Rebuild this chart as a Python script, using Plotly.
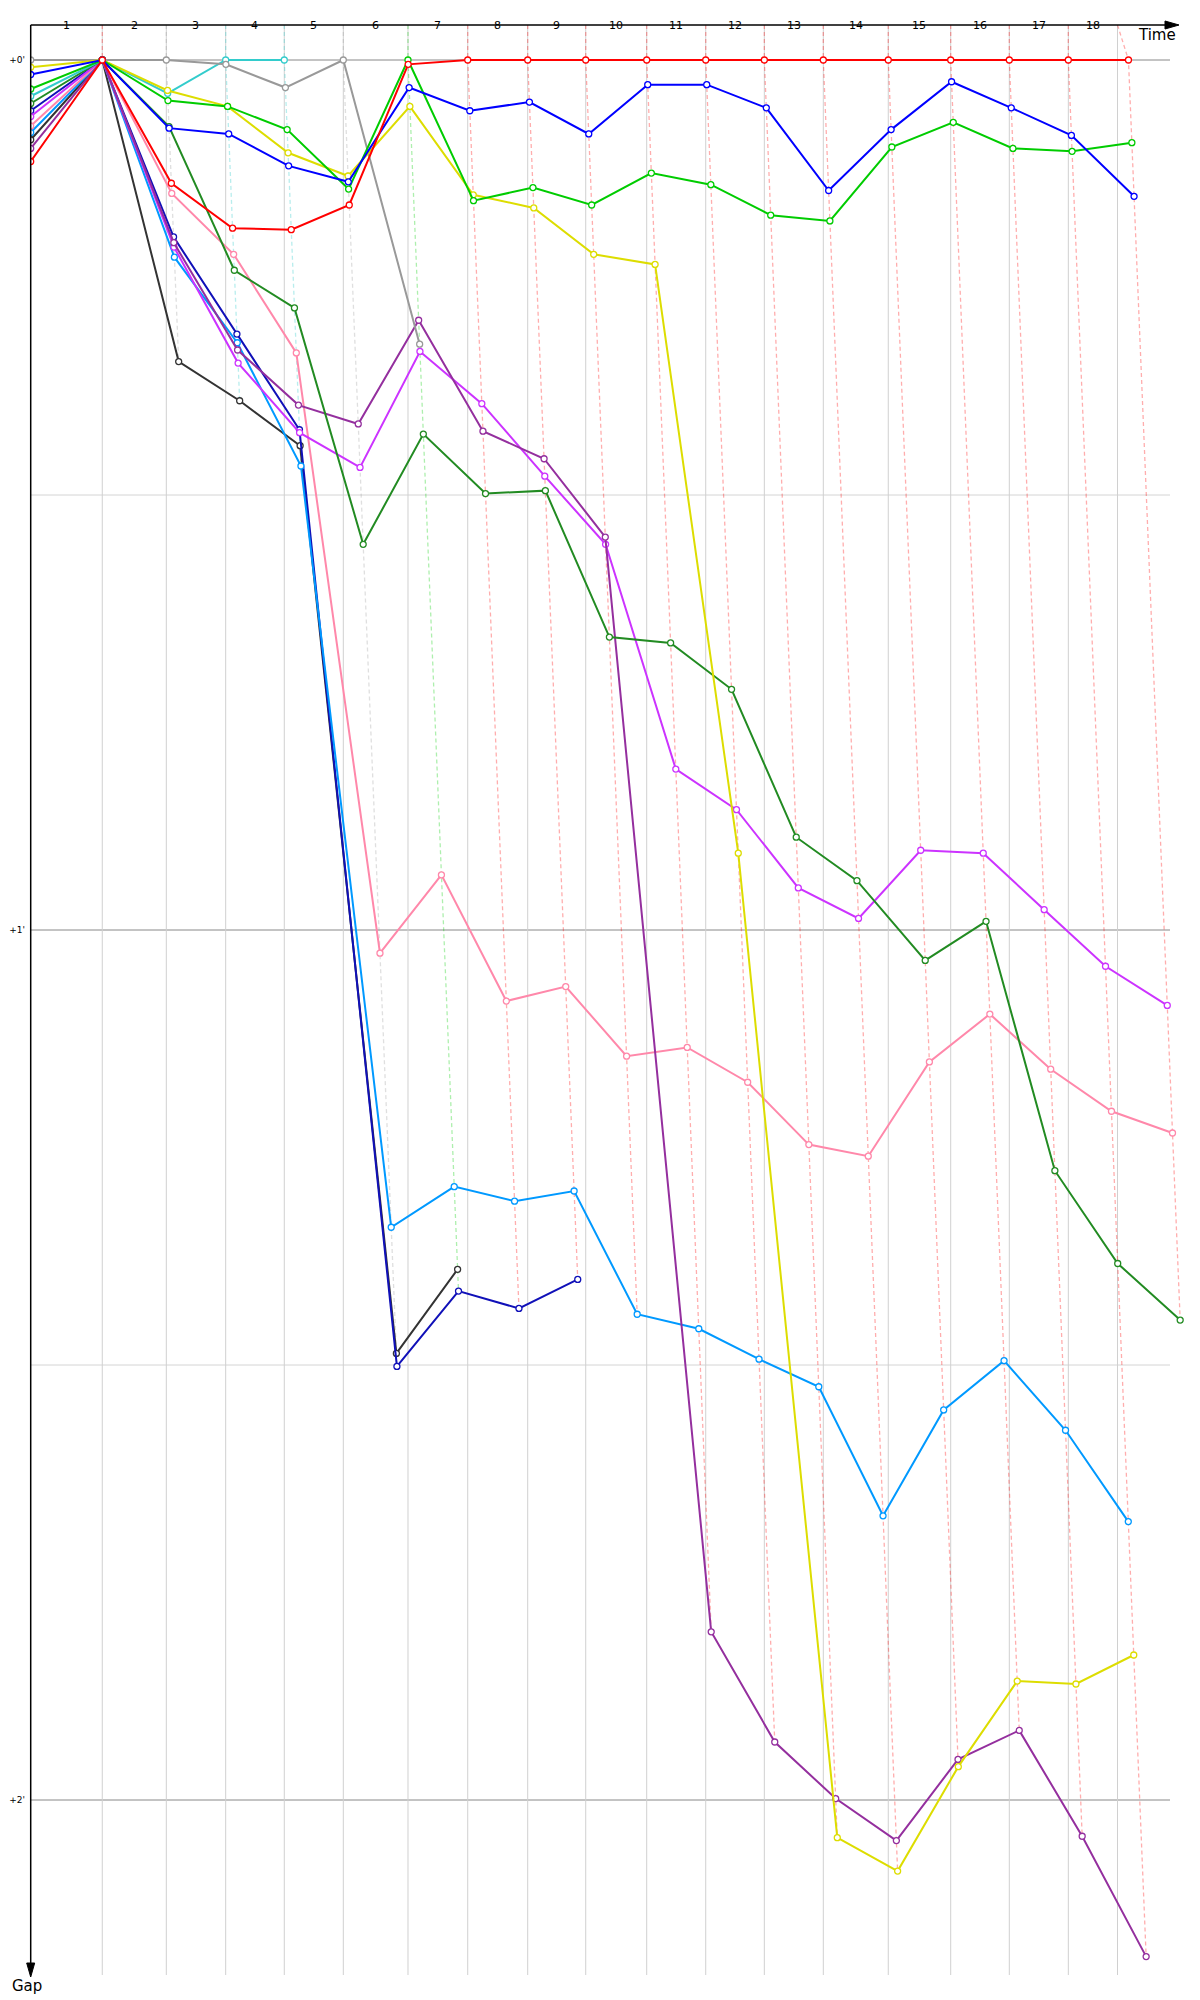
import itertools
import plotly.graph_objects as go

# ---------------- data ----------------
# leader lap durations (s), laps 1..18 (lap 1 from the start)
lap_times = [120.3, 107.6, 99.8, 98.5, 99.2, 108.7, 100.4, 100.8, 97.5,
             102.5, 99.2, 98.5, 99.1, 109.2, 104.9, 98.5, 99.2, 101.1]
race_end = 1826.6           # time of the last lap grid line (s)
lap_labels = [str(i) for i in range(1, 19)]
lap_leaders = ["red", "grey", "cyan", "cyan", "grey", "green"] + ["red"] * 12

# gap to leader (s) at start (index 0) and after each lap 1..18
gap_black = [5.5, 0, 20.8, 23.5, 26.6, 89.2, 83.4]
gap_navy = [3.5, 0, 12.2, 18.9, 25.5, 90.1, 84.9, 86.1, 84.1]
gap_lightblue = [5.0, 0, 13.6, 19.5, 28.0, 80.5, 77.7, 78.7, 78.0, 86.5, 87.5,
                 89.6, 91.5, 100.4, 93.1, 89.7, 94.5, 100.8]
gap_pink = [4.55, 0, 9.2, 13.4, 20.2, 61.6, 56.2, 64.9, 63.9, 68.7, 68.1,
            70.5, 74.8, 75.6, 69.1, 65.8, 69.6, 72.5, 74.0]
gap_violet = [3.9, 0, 12.9, 20.9, 25.7, 28.1, 20.1, 23.7, 28.7, 33.4, 48.9,
              51.7, 57.1, 59.2, 54.5, 54.7, 58.6, 62.5, 65.2]
gap_purple = [6.1, 0, 12.6, 20.0, 23.8, 25.1, 17.95, 25.6, 27.5, 32.9, 108.4,
              116.0, 119.9, 122.8, 117.2, 115.2, 122.5, 130.8]
gap_darkgreen = [3.0, 0, 4.6, 14.5, 17.1, 33.4, 25.8, 29.9, 29.7, 39.8, 40.2,
                 43.4, 53.6, 56.6, 62.1, 59.4, 76.6, 83.0, 86.9]
gap_cyan = [2.5, 0, 2.3, 0, 0]
gap_grey = [0, 0, 0, 0.3, 1.9, 0, 19.6]
gap_yellow = [0.5, 0, 2.1, 3.2, 6.4, 8.0, 3.2, 9.3, 10.2, 13.4, 14.1, 54.7,
              122.6, 124.9, 117.7, 111.8, 112.0, 110.0]
gap_green = [2.0, 0, 2.8, 3.2, 4.8, 8.9, 0, 9.7, 8.8, 10.0, 7.8, 8.6, 10.7,
             11.1, 6.0, 4.3, 6.1, 6.3, 5.7]
gap_blue = [1.0, 0, 4.7, 5.1, 7.3, 8.4, 1.9, 3.5, 2.9, 5.1, 1.7, 1.7, 3.3,
            9.0, 4.8, 1.5, 3.3, 5.2, 9.4]
gap_red = [7.0, 0, 8.5, 11.6, 11.7, 10.0, 0.3, 0, 0, 0, 0, 0, 0, 0, 0, 0, 0, 0, 0]

y_tick_vals = [0, 60, 120]
y_tick_text = ["+0'", "+1'", "+2'"]

# ---------------- styling ----------------
colors = {
    "black": "#333333", "navy": "#1010b8", "lightblue": "#0099ff",
    "pink": "#ff88aa", "violet": "#cc33ff", "purple": "#942f9e",
    "darkgreen": "#228b22", "cyan": "#33cccc", "grey": "#999999",
    "yellow": "#dddd00", "green": "#00cc00", "blue": "#0000ff", "red": "#ff0000",
}
light = {
    "red": "rgba(255,0,0,0.32)", "grey": "rgba(150,150,150,0.30)",
    "cyan": "rgba(51,204,204,0.35)", "green": "rgba(0,204,0,0.32)",
}
series = [
    ("black", gap_black), ("navy", gap_navy), ("lightblue", gap_lightblue),
    ("pink", gap_pink), ("violet", gap_violet), ("purple", gap_purple),
    ("darkgreen", gap_darkgreen), ("cyan", gap_cyan), ("grey", gap_grey),
    ("yellow", gap_yellow), ("green", gap_green), ("blue", gap_blue),
    ("red", gap_red),
]

# plot area in pixels
PL, PR, PT, PB = 30, 1195, 25, 1995
X0, PXS = 30.7, 0.595     # px of t=0, px per second (x)
Y0, PYS = 60.0, 14.5      # px of gap 0, px per second (y)
def tx(px):
    return (px - X0) / PXS
def gy(py):
    return (py - Y0) / PYS
def xp(px):
    return (px - PL) / (PR - PL)
def yp(py):
    return (PB - py) / (PB - PT)

leader_t = [0.0] + list(itertools.accumulate(lap_times))
grid_t = leader_t[1:18] + [race_end]
g_top = gy(25)
g_bot = gy(1975)

fig = go.Figure()

# lap dashed lines (through every car's crossing of that lap)
for k in range(1, 19):
    gaps_k = [g[k] for _, g in series if len(g) > k]
    gmax = max(gaps_k)
    fig.add_trace(go.Scatter(
        x=[grid_t[k - 1], leader_t[k], leader_t[k] + gmax],
        y=[g_top, 0, gmax], mode="lines",
        line=dict(color=light[lap_leaders[k - 1]], width=1.3, dash="4px,3px"),
        hoverinfo="skip", showlegend=False))

# driver traces
for name, g in series:
    xs = [leader_t[k] + (g[k] if k > 0 else 0) for k in range(len(g))]
    fig.add_trace(go.Scatter(
        x=xs, y=g, mode="lines+markers", name=name,
        line=dict(color=colors[name], width=2),
        marker=dict(symbol="circle", size=6, color="white",
                    line=dict(color=colors[name], width=1.3)),
        showlegend=False))

shapes = []
# horizontal grid
for v in [0, 30, 60, 90, 120]:
    shapes.append(dict(type="line", x0=0, x1=tx(1170), y0=v, y1=v,
                       line=dict(color="#888888" if v % 60 == 0 else "#d4d4d4", width=1),
                       layer="below"))
# vertical lap grid
for t in grid_t:
    shapes.append(dict(type="line", x0=t, x1=t, y0=g_top, y1=g_bot,
                       line=dict(color="#d0d0d0", width=1), layer="below"))
# axes (paper refs so they are not clipped)
shapes.append(dict(type="line", xref="paper", yref="paper",
                   x0=xp(30.7), x1=xp(1168), y0=yp(25), y1=yp(25),
                   line=dict(color="black", width=1.5)))
shapes.append(dict(type="line", xref="paper", yref="paper",
                   x0=xp(30.7), x1=xp(30.7), y0=yp(25), y1=yp(1966),
                   line=dict(color="black", width=1.5)))
# arrow heads
shapes.append(dict(type="path", xref="paper", yref="paper", fillcolor="black",
                   line=dict(color="black", width=1),
                   path=f"M {xp(1179)},{yp(25)} L {xp(1165)},{yp(21)} L {xp(1165)},{yp(29)} Z"))
shapes.append(dict(type="path", xref="paper", yref="paper", fillcolor="black",
                   line=dict(color="black", width=1),
                   path=f"M {xp(30.7)},{yp(1977)} L {xp(26.7)},{yp(1963)} L {xp(34.7)},{yp(1963)} Z"))

annotations = []
bounds = [0.0] + grid_t
for i, lab in enumerate(lap_labels):
    annotations.append(dict(x=(bounds[i] + bounds[i + 1]) / 2, y=1, xref="x", yref="paper",
                            yshift=8, text=lab, showarrow=False,
                            font=dict(size=11, color="black")))
annotations.append(dict(x=xp(1178), y=yp(35), xref="paper", yref="paper", xanchor="right",
                        yanchor="middle", text="Time", showarrow=False,
                        font=dict(size=15, color="black")))
annotations.append(dict(x=xp(10), y=yp(1986), xref="paper", yref="paper", xanchor="left",
                        yanchor="middle", text="Gap", showarrow=False,
                        font=dict(size=15, color="black")))

fig.update_layout(
    width=1200, height=2000,
    margin=dict(l=PL, r=1200 - PR, t=PT, b=2000 - PB),
    plot_bgcolor="white", paper_bgcolor="white",
    font=dict(family="DejaVu Sans", color="black"),
    shapes=shapes, annotations=annotations,
    xaxis=dict(range=[tx(PL), tx(PR)], showgrid=False, zeroline=False,
               showline=False, showticklabels=False),
    yaxis=dict(range=[gy(PB), gy(PT)], showgrid=False, zeroline=False,
               showline=False, tickvals=y_tick_vals, ticktext=y_tick_text,
               tickfont=dict(size=9, color="black"), ticks="", ticklabelstandoff=4),
)

fig.write_html("out.html", config={"displayModeBar": False},
               post_script="document.body.style.margin='0px';")
